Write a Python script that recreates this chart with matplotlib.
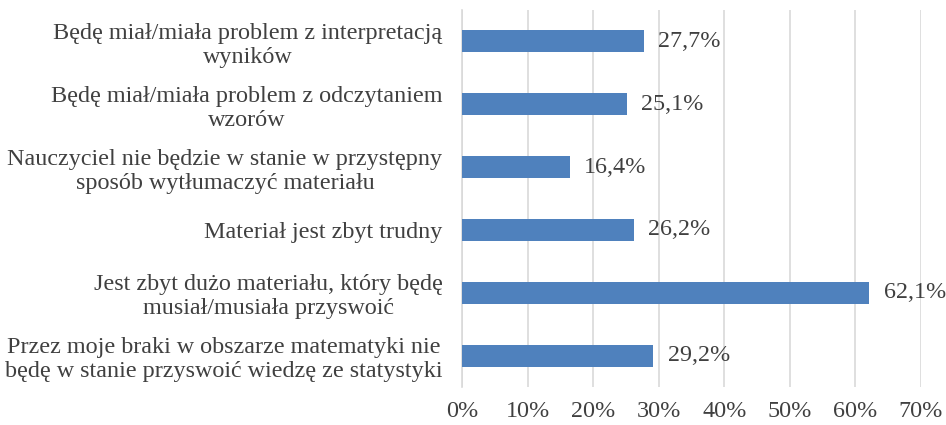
import matplotlib.pyplot as plt
from matplotlib.ticker import FuncFormatter

plt.rcParams['font.family'] = ['Liberation Serif', 'DejaVu Serif']

# categories listed top to bottom
categories = [
    "Będę miał/miała problem z interpretacją\nwyników",
    "Będę miał/miała problem z odczytaniem\nwzorów",
    "Nauczyciel nie będzie w stanie w przystępny\nsposób wytłumaczyć materiału",
    "Materiał jest zbyt trudny",
    "Jest zbyt dużo materiału, który będę\nmusiał/musiała przyswoić",
    "Przez moje braki w obszarze matematyki nie\nbędę w stanie przyswoić wiedzę ze statystyki",
]
values = [27.7, 25.1, 16.4, 26.2, 62.1, 29.2]
ticks = [0, 10, 20, 30, 40, 50, 60, 70]

text_col = '#404040'
bar_col = '#4F81BD'
fs = 17.4

fig = plt.figure(figsize=(9.46, 4.25), dpi=100)
ax = fig.add_axes([462/946, 1 - 387/425, (921 - 462)/946, 377/425])

pos = list(range(len(categories)))
ax.barh(pos, values, height=0.35, color=bar_col, zorder=3)
for p, v in zip(pos, values):
    ax.text(v + 2.2, p, f"{v:.1f}%".replace('.', ','), va='center', ha='left',
            fontsize=fs, color=text_col)

ax.set_xlim(0, 70)
ax.set_ylim(len(categories) - 0.5, -0.5)
ax.set_xticks(ticks)
ax.xaxis.set_major_formatter(FuncFormatter(lambda x, _: f"{x:.0f}%"))
ax.set_yticks(pos)
ax.set_yticklabels(categories, ha='right', multialignment='center', linespacing=1.2)
ax.tick_params(axis='both', length=0, labelsize=fs, colors=text_col)
ax.tick_params(axis='x', pad=10)
ax.tick_params(axis='y', pad=14)
ax.grid(axis='x', color='#D9D9D9', linewidth=1.2, zorder=0)
for s in ['top', 'right', 'bottom']:
    ax.spines[s].set_visible(False)
ax.spines['left'].set_color('#D9D9D9')
ax.spines['left'].set_linewidth(1.2)

fig.savefig('out.png', dpi=100, facecolor='white')
